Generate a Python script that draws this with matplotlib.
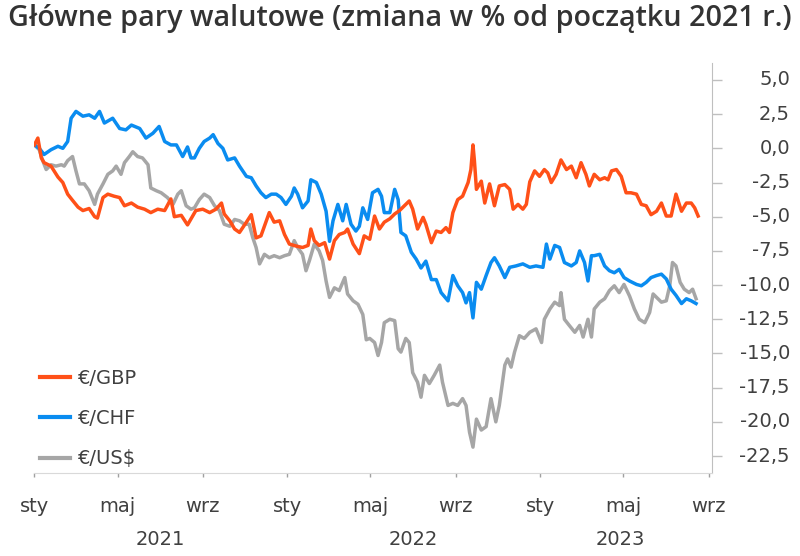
import numpy as np
import pandas as pd
import matplotlib
matplotlib.use("Agg")
import matplotlib.pyplot as plt
from matplotlib.transforms import blended_transform_factory

# dni od 1 stycznia 2021 oraz zmiana w %
gbp_days = [0, 5, 10, 14, 24, 34, 41, 48, 55, 63, 70, 79, 87, 91, 99, 106, 115, 123, 130, 140,
            149, 159, 168, 178, 188, 197, 202, 212, 221, 233, 243, 253, 262, 270, 274, 282, 289,
            296, 306, 313, 320, 327, 334, 339, 346, 354, 361, 368, 378, 387, 395, 399, 404, 411,
            419, 426, 433, 440, 448, 452, 460, 469, 476, 484, 491, 498, 505, 513, 520, 527, 534,
            541, 546, 553, 561, 565, 573, 580, 587, 594, 599, 604, 611, 618, 626, 630, 633, 635,
            638, 645, 650, 657, 664, 671, 679, 686, 691, 698, 705, 710, 715, 722, 729, 736, 741,
            746, 753, 760, 768, 775, 782, 789, 796, 801, 808, 816, 823, 828, 833, 840, 847, 854,
            861, 869, 876, 883, 890, 898, 905, 912, 919, 926, 934, 941, 948, 953, 958]
gbp_vals = [0.25, 0.75, -0.7, -1.05, -1.3, -2.1, -2.5, -3.35, -3.8, -4.3, -4.55, -4.4, -5.0, -5.1,
            -3.6, -3.35, -3.5, -3.6, -4.2, -4.0, -4.3, -4.45, -4.7, -4.45, -4.55, -3.7, -5.0, -4.9,
            -5.6, -4.55, -4.45, -4.7, -4.45, -4.0, -4.8, -5.3, -5.9, -6.15, -5.4, -4.85, -6.55,
            -6.4, -5.4, -4.7, -5.4, -5.3, -6.3, -7.0, -7.15, -7.25, -7.1, -5.9, -6.75, -7.1, -6.9,
            -8.1, -6.75, -6.3, -6.15, -5.9, -7.0, -7.7, -6.4, -6.65, -4.95, -5.9, -5.4, -5.15,
            -4.8, -4.55, -4.2, -3.85, -4.45, -5.9, -5.05, -5.55, -6.9, -6.05, -6.15, -5.8, -6.15,
            -4.7, -3.75, -3.5, -2.5, -1.55, 0.25, -0.85, -3.0, -2.4, -4.0, -2.6, -4.2, -2.75,
            -2.65, -3.0, -4.45, -4.1, -4.45, -4.1, -2.45, -1.65, -2.05, -1.55, -1.8, -2.5, -1.9,
            -0.85, -1.55, -1.3, -2.15, -1.05, -1.9, -2.75, -1.9, -2.3, -2.15, -2.3, -1.65, -1.55,
            -2.05, -3.25, -3.25, -3.35, -4.1, -4.2, -4.85, -4.6, -4.0, -4.95, -4.95, -3.35, -4.6,
            -4.0, -4.0, -4.35, -4.95]

chf_days = [0, 7, 14, 24, 34, 41, 48, 53, 60, 70, 79, 87, 94, 101, 113, 123, 132, 140, 152, 161,
            171, 180, 188, 197, 205, 214, 221, 226, 231, 238, 245, 253, 258, 265, 272, 279, 289,
            296, 306, 313, 320, 327, 334, 342, 349, 356, 363, 371, 375, 380, 387, 395, 399, 407,
            414, 421, 426, 431, 438, 445, 450, 457, 464, 469, 474, 481, 488, 496, 501, 505, 513,
            520, 525, 529, 536, 544, 551, 558, 565, 573, 580, 587, 597, 604, 611, 618, 623, 628,
            633, 638, 645, 652, 659, 664, 671, 679, 686, 695, 705, 715, 724, 734, 739, 744, 751,
            758, 765, 775, 782, 787, 794, 799, 804, 808, 816, 823, 830, 837, 844, 851, 859, 869,
            876, 883, 890, 898, 905, 912, 919, 926, 934, 941, 948, 955]
chf_vals = [0.25, 0.0, -0.45, -0.1, 0.15, 0.0, 0.5, 2.2, 2.7, 2.35, 2.45, 2.2, 2.7, 1.85, 2.2, 1.45,
            1.35, 1.7, 1.45, 0.75, 1.1, 1.6, 0.5, 0.25, 0.25, -0.6, 0.1, -0.7, -0.7, 0.0, 0.5, 0.75,
            1.0, 0.35, 0.0, -0.85, -0.7, -1.3, -2.05, -2.15, -2.75, -3.25, -3.6, -3.35, -3.35,
            -3.6, -4.1, -3.5, -2.9, -3.35, -4.35, -3.85, -2.3, -2.5, -3.35, -4.6, -6.8, -5.3, -4.1,
            -5.3, -4.1, -5.55, -6.05, -5.7, -4.35, -5.2, -3.25, -3.0, -3.5, -4.7, -4.7, -3.0,
            -3.75, -6.15, -6.4, -7.6, -8.1, -8.75, -8.25, -9.6, -9.6, -10.55, -11.15, -9.3,
            -10.05, -10.55, -11.3, -10.55, -12.4, -9.8, -10.3, -9.3, -8.35, -8.0, -8.6, -9.45,
            -8.7, -8.6, -8.45, -8.7, -8.6, -8.7, -7.0, -8.1, -7.1, -7.25, -8.35, -8.6, -8.35, -7.5,
            -8.35, -9.7, -7.85, -7.85, -7.75, -8.6, -8.95, -9.1, -8.85, -9.45, -9.7, -9.95, -10.05,
            -9.8, -9.45, -9.3, -9.2, -9.55, -10.3, -10.75, -11.35, -11.0, -11.15, -11.35]

usd_days = [0, 7, 12, 17, 24, 31, 39, 43, 48, 55, 60, 65, 72, 79, 87, 91, 99, 106, 113, 118, 125,
            130, 137, 142, 149, 156, 164, 168, 176, 183, 192, 200, 207, 212, 219, 226, 231, 238,
            245, 253, 260, 267, 274, 282, 289, 296, 303, 310, 315, 320, 325, 332, 339, 346, 354,
            361, 368, 375, 380, 387, 392, 397, 404, 411, 416, 421, 426, 433, 440, 448, 452, 460,
            467, 474, 479, 484, 491, 496, 501, 505, 513, 520, 525, 529, 536, 541, 546, 553, 558,
            563, 570, 577, 585, 589, 597, 604, 611, 618, 623, 628, 633, 638, 645, 652, 659, 666,
            671, 679, 683, 688, 693, 700, 707, 715, 724, 732, 736, 744, 751, 758, 760, 765, 772,
            780, 787, 792, 799, 804, 808, 816, 823, 830, 837, 844, 851, 859, 866, 873, 881, 888,
            893, 900, 905, 912, 917, 921, 926, 932, 938, 945, 950, 955]
usd_vals = [0.25, -0.1, -0.9, -1.55, -1.2, -1.3, -1.2, -1.3, -0.9, -0.6, -1.65, -2.6, -2.6, -3.1,
            -4.1, -3.35, -2.6, -1.9, -1.65, -1.3, -1.9, -1.05, -0.6, -0.25, -0.6, -0.7, -1.2, -2.9,
            -3.1, -3.25, -3.6, -4.1, -3.35, -3.1, -4.2, -4.45, -4.35, -3.75, -3.35, -3.6, -4.2,
            -4.55, -5.55, -5.7, -5.2, -5.3, -5.55, -5.55, -6.5, -7.25, -8.45, -7.75, -8.0, -7.85,
            -8.0, -7.85, -7.75, -6.75, -7.25, -7.75, -8.95, -8.2, -7.0, -7.5, -8.2, -9.7, -10.9,
            -10.2, -10.4, -9.45, -10.65, -11.15, -11.4, -12.15, -14.0, -13.9, -14.2, -15.15,
            -14.2, -12.75, -12.5, -12.6, -14.65, -14.9, -13.9, -14.2, -16.4, -17.1, -18.2, -16.6,
            -17.2, -16.6, -15.85, -17.1, -18.8, -18.65, -18.8, -18.3, -18.8, -20.75, -21.85,
            -19.8, -20.6, -20.35, -18.3, -20.0, -18.8, -15.85, -15.4, -16.0, -14.9, -13.7, -13.9,
            -13.45, -13.2, -14.2, -12.5, -11.75, -11.25, -11.5, -10.55, -12.5, -12.95, -13.45,
            -12.95, -13.8, -12.5, -13.8, -11.75, -11.25, -11.0, -10.4, -10.05, -10.55, -9.95,
            -10.8, -11.75, -12.5, -12.75, -12.0, -10.65, -11.0, -11.25, -11.15, -10.05, -8.35,
            -8.6, -9.8, -10.3, -10.55, -10.3, -11.0]

series_labels = ["€/GBP", "€/CHF", "€/US$"]
series_colors = ["#FF5018", "#0A8CF0", "#A6A6A6"]
month_labels = ["sty", "maj", "wrz"]
years = ["2021", "2022", "2023"]
y_ticks = np.arange(-22.5, 5.01, 2.5)

start = pd.Timestamp("2021-01-01")


def to_dates(days):
    return start + pd.to_timedelta(days, unit="D")


txt = "#404040"
fig = plt.figure(figsize=(8, 5.56), dpi=100)
ax = fig.add_axes([0.043, 0.1493, 0.847, 0.7374])

data = [(gbp_days, gbp_vals), (chf_days, chf_vals), (usd_days, usd_vals)]
zs = [4, 3, 2]
for (d, v), lab, col, z in zip(data, series_labels, series_colors, zs):
    ax.plot(to_dates(d), v, color=col, lw=2.5, label=lab, zorder=z,
            solid_joinstyle="round")

ax.set_xlim(start, start + pd.Timedelta(days=978))
ax.set_ylim(-23.74, 6.24)

# oś Y po prawej, etykiety wyrównane do prawej
ax.yaxis.tick_right()
ax.set_yticks(y_ticks)
ax.tick_params(axis="y", length=7, width=1, color="#BFBFBF", labelright=False)
ytrans = blended_transform_factory(ax.transAxes, ax.transData)
for t in y_ticks:
    lab = f"{t:.1f}".replace(".", ",")
    ax.text(1.0 + 78 / (0.847 * 800), t, lab, transform=ytrans, ha="right", va="center",
            fontsize=14, color=txt)

# oś X: miesiące + lata
month_ticks = []
month_text = []
for y in (2021, 2022, 2023):
    for m, name in zip((1, 5, 9), month_labels):
        month_ticks.append(pd.Timestamp(y, m, 1))
        month_text.append(name)
ax.set_xticks(month_ticks)
ax.set_xticklabels(month_text)
ax.set_xticks([pd.Timestamp(y, 1, 1) for y in (2021, 2022, 2023)], minor=True)
ax.tick_params(axis="x", which="major", length=3, width=1, color="#A0A0A0",
               labelcolor=txt, labelsize=14, pad=14)
ax.tick_params(axis="x", which="minor", length=8, width=1, color="#A0A0A0")

trans = blended_transform_factory(ax.transData, ax.transAxes)
year_pos = [pd.Timestamp("2021-07-02"), pd.Timestamp("2022-07-02"), pd.Timestamp("2023-04-26")]
for yp, yl in zip(year_pos, years):
    ax.text(yp, -0.163, yl, transform=trans, ha="center", va="center",
            fontsize=14, color=txt)

for s in ("top", "left"):
    ax.spines[s].set_visible(False)
ax.spines["bottom"].set_color("#D9D9D9")
ax.spines["right"].set_color("#BFBFBF")

leg = ax.legend(loc="upper left", bbox_to_anchor=(0.05, 0.337), bbox_transform=fig.transFigure,
                frameon=False, fontsize=14, handlelength=1.55, handletextpad=0.4,
                labelspacing=1.1, borderpad=0, borderaxespad=0)
for t in leg.get_texts():
    t.set_color(txt)
for h in leg.get_lines():
    h.set_linewidth(3)

fig.text(0.01, 0.993, "Główne pary walutowe (zmiana w % od początku 2021 r.)",
         fontsize=20.7, fontweight="semibold", color="#333333", va="top", ha="left",
         family="Open Sans")

fig.savefig("out.png", dpi=100)
